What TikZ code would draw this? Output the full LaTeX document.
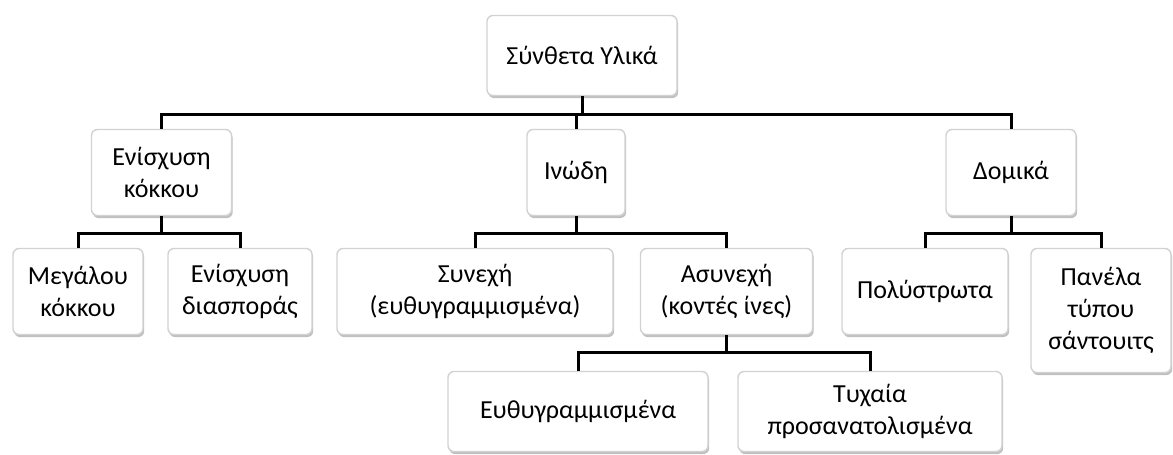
\documentclass[tikz,border=0pt]{standalone}
\usepackage{fontspec}
\setmainfont{Carlito}
\usepackage{xcolor}
\usepackage{tikz}
\usetikzlibrary{shadows}
\tikzset{
  matbox/.style={draw=gray!35, line width=0.7pt, fill=white, rounded corners=3pt, align=center,
    font=\fontsize{13}{16}\selectfont, inner sep=2pt,
    drop shadow={shadow xshift=0.6pt, shadow yshift=-1.3pt, opacity=0.55, fill=black!45}},
  treeline/.style={line width=1.5pt, black},
}

\begin{document}
\begin{tikzpicture}[x=0.5pt, y=-0.5pt]
  \useasboundingbox (0,0) rectangle (1173,455);

  % Root
  \node[matbox, minimum width=95pt, minimum height=40pt] (root) at (582,55.5) {Σύνθετα Υλικά};

  % Level 2
  \node[matbox, minimum width=70pt, minimum height=43pt] (grain) at (161.5,172.5) {Ενίσχυση\\κόκκου};
  \node[matbox, minimum width=49pt, minimum height=43pt] (fibre) at (576,172.5) {Ινώδη};
  \node[matbox, minimum width=65pt, minimum height=43pt] (struct) at (1011,172.5) {Δομικά};

  % Level 3
  \node[matbox, minimum width=65pt, minimum height=43pt] (large) at (78,291.5) {Μεγάλου\\κόκκου};
  \node[matbox, minimum width=72pt, minimum height=43pt] (disp) at (240,291.5) {Ενίσχυση\\διασποράς};
  \node[matbox, minimum width=138pt, minimum height=43pt] (cont) at (475,291.5) {Συνεχή\\(ευθυγραμμισμένα)};
  \node[matbox, minimum width=86pt, minimum height=43pt] (short) at (726.5,291.5) {Ασυνεχή\\(κοντές ίνες)};
  \node[matbox, minimum width=83pt, minimum height=43pt] (layer) at (925,291.5) {Πολύστρωτα};
  \node[matbox, minimum width=70pt, minimum height=62pt] (sandw) at (1101,310.5) {Πανέλα\\τύπου\\σάντουιτς};

  % Level 4
  \node[matbox, minimum width=130pt, minimum height=40pt] (align) at (578,411.5) {Ευθυγραμμισμένα};
  \node[matbox, minimum width=132pt, minimum height=40pt] (random) at (870,411.5) {Τυχαία\\προσανατολισμένα};

  % Connectors
  \foreach \child in {grain,fibre,struct}
    \draw[treeline] (root.south) -- ++(0,18) -| (\child.north);
  \foreach \child in {large,disp}
    \draw[treeline] (grain.south) -- ++(0,17) -| (\child.north);
  \foreach \child in {cont,short}
    \draw[treeline] (fibre.south) -- ++(0,17) -| (\child.north);
  \foreach \child in {layer,sandw}
    \draw[treeline] (struct.south) -- ++(0,17) -| (\child.north);
  \foreach \child in {align,random}
    \draw[treeline] (short.south) -- ++(0,17) -| (\child.north);
\end{tikzpicture}
\end{document}
